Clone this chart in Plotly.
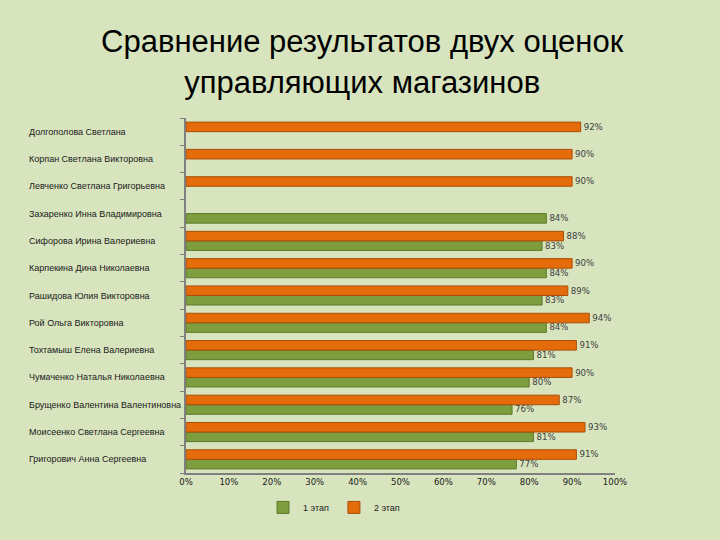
import plotly.graph_objects as go

# categories top-to-bottom as in the reference
names = [
    "Долгополова Светлана",
    "Корпан Светлана Викторовна",
    "Левченко Светлана Григорьевна",
    "Захаренко Инна Владимировна",
    "Сифорова Ирина Валериевна",
    "Карпекина Дина Николаевна",
    "Рашидова Юлия Викторовна",
    "Рой Ольга Викторовна",
    "Тохтамыш Елена Валериевна",
    "Чумаченко Наталья Николаевна",
    "Брущенко Валентина Валентиновна",
    "Моисеенко Светлана Сергеевна",
    "Григорович Анна Сергеевна",
]
stage1 = [None, None, None, 0.84, 0.83, 0.84, 0.83, 0.84, 0.81, 0.80, 0.76, 0.81, 0.77]
stage2 = [0.92, 0.90, 0.90, None, 0.88, 0.90, 0.89, 0.94, 0.91, 0.90, 0.87, 0.93, 0.91]
x_ticks = [0, 0.1, 0.2, 0.3, 0.4, 0.5, 0.6, 0.7, 0.8, 0.9, 1.0]

# plot bottom-to-top so that stage 2 (second trace) sits above stage 1 within a group
cats = names[::-1]
s1 = stage1[::-1]
s2 = stage2[::-1]

def lbl(v):
    return "" if v is None else f"{round(v*100)}%"

bg = "#D7E4BD"
fig = go.Figure()
fig.add_trace(go.Bar(
    y=cats, x=s1, orientation="h", name="1 этап",
    marker=dict(color="#7E9D3E", line=dict(color="#5F7A2C", width=1)),
    text=[lbl(v) for v in s1], textposition="outside", cliponaxis=False,
    textfont=dict(family="DejaVu Sans", size=9, color="#404040"),
))
fig.add_trace(go.Bar(
    y=cats, x=s2, orientation="h", name="2 этап",
    marker=dict(color="#E46C0A", line=dict(color="#A84E08", width=1)),
    text=[lbl(v) for v in s2], textposition="outside", cliponaxis=False,
    textfont=dict(family="DejaVu Sans", size=9, color="#404040"),
))

for c in cats:
    fig.add_annotation(
        x=-0.371, xref="paper", y=c, yref="y", text=c, showarrow=False,
        xanchor="left", yanchor="middle",
        font=dict(family="Liberation Sans", size=9, color="#202020"),
    )

fig.update_layout(
    width=720, height=540,
    paper_bgcolor=bg, plot_bgcolor=bg,
    barmode="group", bargap=0.3, bargroupgap=0,
    margin=dict(l=186, r=105, t=118, b=67),
    title=dict(
        text="Сравнение результатов двух оценок<br>управляющих магазинов",
        x=0.503, xanchor="center", xref="container", y=0.903, yanchor="middle", yref="container",
        font=dict(family="Liberation Sans", size=31, color="#000000"),
    ),
    showlegend=True,
    legend=dict(
        orientation="h", x=0.345, xanchor="center", y=-0.097, yanchor="middle",
        font=dict(family="Liberation Sans", size=9, color="#202020"),
        bgcolor="rgba(0,0,0,0)", itemwidth=30,
    ),
    xaxis=dict(
        range=[0, 1], tickvals=x_ticks, tickformat=".0%",
        showgrid=False, zeroline=False, showline=True, linecolor="#808080",
        linewidth=1.5, ticks="", tickfont=dict(family="DejaVu Sans", size=8.5, color="#202020"),
    ),
    yaxis=dict(
        showticklabels=False, showgrid=False, zeroline=False, showline=True,
        linecolor="#808080", linewidth=1.5, ticks="outside", tickson="boundaries",
        ticklen=4, tickcolor="#808080",
    ),
)

fig.write_html("out.html", post_script="document.body.style.margin='0';",
               config={"displayModeBar": False})
